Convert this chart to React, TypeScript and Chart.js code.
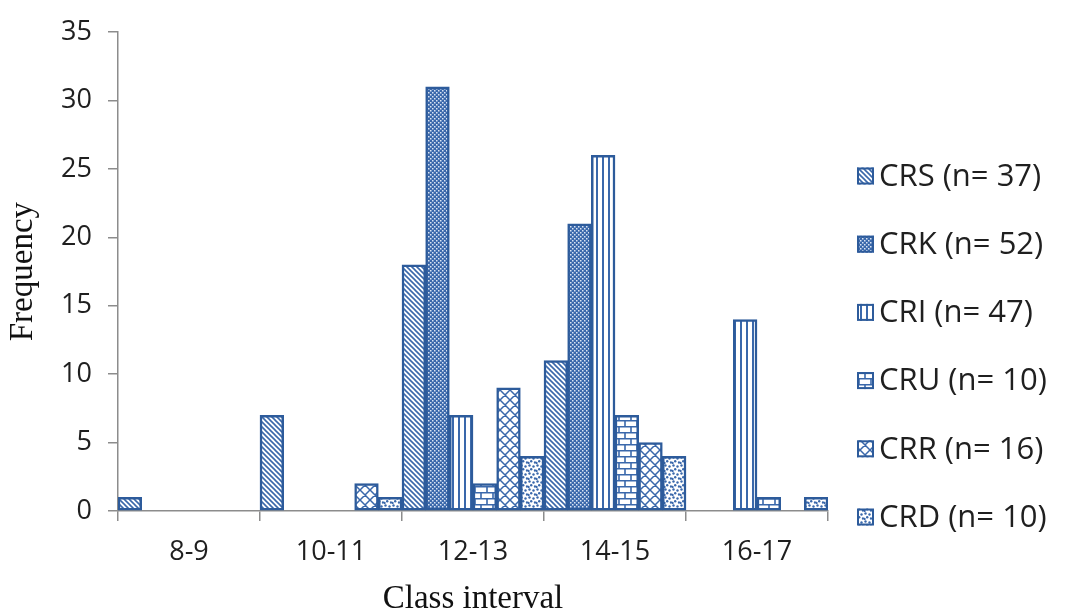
import { useEffect, useRef } from "react";
import { Chart, registerables } from "chart.js";

Chart.register(...registerables);

// ---- data ----
const categories = ["8-9", "10-11", "12-13", "14-15", "16-17"];
const seriesNames = ["CRS (n= 37)", "CRK (n= 52)", "CRI (n= 47)", "CRU (n= 10)", "CRR (n= 16)", "CRD (n= 10)"];
const crsValues = [1, 7, 18, 11, 0];
const crkValues = [0, 0, 31, 21, 0];
const criValues = [0, 0, 7, 26, 14];
const cruValues = [0, 0, 2, 7, 1];
const crrValues = [0, 2, 9, 5, 0];
const crdValues = [0, 1, 4, 4, 1];
const yMin = 0;
const yMax = 35;
const yStep = 5;
const xTitle = "Class interval";
const yTitle = "Frequency";

// ---- styles ----
const BORDER = "#2D5B9B";
const HATCH = "#3A68AB";
const TICK_FONT = '"Open Sans", "Noto Sans", sans-serif';
const TITLE_FONT = '"Liberation Serif", "DejaVu Serif", serif';

type Kind = "diag" | "fine" | "vert" | "brick" | "cross" | "dots";
const kinds: Kind[] = ["diag", "fine", "vert", "brick", "cross", "dots"];

function makePattern(kind: Kind): CanvasPattern | string {
  const c = document.createElement("canvas");
  const g = c.getContext("2d");
  if (!g) return "#fff";
  let w = 5, h = 5;
  if (kind === "fine") { w = 4; h = 4; }
  if (kind === "vert") { w = 6; h = 6; }
  if (kind === "brick") { w = 12; h = 12; }
  if (kind === "cross") { w = 10; h = 10; }
  if (kind === "dots") { w = 8; h = 8; }
  c.width = w; c.height = h;
  g.fillStyle = "#ffffff";
  g.fillRect(0, 0, w, h);
  g.strokeStyle = HATCH;
  g.fillStyle = HATCH;
  if (kind === "diag") {
    g.lineWidth = 1.6;
    for (const k of [-w, 0, w]) {
      g.beginPath();
      g.moveTo(k - 1, -1);
      g.lineTo(k + w + 1, h + 1);
      g.stroke();
    }
  } else if (kind === "fine") {
    g.fillStyle = HATCH;
    g.fillRect(0, 0, w, h);
    g.fillStyle = "#d9e4f3";
    g.fillRect(0, 0, 1.5, 1.5);
    g.fillRect(2, 2, 1.5, 1.5);
  } else if (kind === "vert") {
    g.lineWidth = 2;
    g.beginPath();
    g.moveTo(3, 0);
    g.lineTo(3, h);
    g.stroke();
  } else if (kind === "brick") {
    g.lineWidth = 1.6;
    g.beginPath();
    g.moveTo(0, 0.8); g.lineTo(w, 0.8);
    g.moveTo(0, 6.8); g.lineTo(w, 6.8);
    g.moveTo(1, 0); g.lineTo(1, 6);
    g.moveTo(7, 6); g.lineTo(7, 12);
    g.stroke();
  } else if (kind === "cross") {
    g.lineWidth = 1.5;
    g.beginPath();
    for (const k of [-w, 0, w]) {
      g.moveTo(k, 0); g.lineTo(k + w, h);
      g.moveTo(k + w, 0); g.lineTo(k, h);
    }
    g.stroke();
  } else if (kind === "dots") {
    const pts = [[1.5, 1.5], [5.5, 2.5], [3.2, 5.2], [7, 6.5], [0.5, 7]];
    for (const [x, y] of pts) {
      g.beginPath();
      g.arc(x, y, 1.2, 0, Math.PI * 2);
      g.fill();
    }
  }
  return g.createPattern(c, "repeat") || "#fff";
}

// legend layout
const LEG_X = 857;
const LEG_Y0 = 176;
const LEG_STEP = 68.2;
const LEG_BOX = 17;
const LEG_FONT_SIZE = 31;

const sideLegend = {
  id: "sideLegend",
  afterDraw(chart: any) {
    const ctx = chart.ctx as CanvasRenderingContext2D;
    chart.data.datasets.forEach((ds: any, i: number) => {
      const y = LEG_Y0 + i * LEG_STEP;
      ctx.save();
      ctx.fillStyle = ds.backgroundColor;
      ctx.fillRect(LEG_X, y - LEG_BOX / 2, LEG_BOX, LEG_BOX);
      ctx.strokeStyle = ds.borderColor;
      ctx.lineWidth = 2;
      ctx.strokeRect(LEG_X + 1, y - LEG_BOX / 2 + 1, LEG_BOX - 2, LEG_BOX - 2);
      ctx.fillStyle = "#1f1f1f";
      ctx.font = `${LEG_FONT_SIZE}px ${TICK_FONT}`;
      ctx.textBaseline = "middle";
      ctx.textAlign = "left";
      ctx.fillText(ds.label, LEG_X + LEG_BOX + 5, y + 1);
      ctx.restore();
    });
  },
};

export default function App() {
  const ref = useRef<HTMLCanvasElement | null>(null);

  useEffect(() => {
    document.body.style.margin = "0";
    const canvas = ref.current;
    if (!canvas) return;
    const values = [crsValues, crkValues, criValues, cruValues, crrValues, crdValues];
    const datasets = values.map((v, i) => ({
      label: seriesNames[i],
      data: v,
      backgroundColor: makePattern(kinds[i]) as any,
      borderColor: BORDER,
      borderWidth: 2.5,
      borderSkipped: false as const,
      barPercentage: 1,
      categoryPercentage: 1,
    }));

    const chart = new Chart(canvas, {
      type: "bar",
      data: { labels: categories, datasets },
      plugins: [sideLegend],
      options: {
        responsive: false,
        animation: false,
        layout: { padding: { top: 29, right: 244, left: 0, bottom: 0 } },
        plugins: { legend: { display: false }, tooltip: { enabled: false } },
        scales: {
          x: {
            grid: { display: true, drawOnChartArea: false, offset: true, tickLength: 10, color: "#8C8C8C", lineWidth: 1.5 },
            border: { display: true, color: "#8C8C8C", width: 1.5 },
            ticks: { color: "#1f1f1f", font: { family: TICK_FONT, size: 27 }, padding: 15, maxRotation: 0 },
            title: { display: true, text: xTitle, color: "#111", font: { family: TITLE_FONT, size: 33, lineHeight: 1 }, padding: { top: 0, bottom: -1 } },
            afterFit: (s: any) => { s.height = 104; },
          },
          y: {
            min: yMin,
            max: yMax,
            grid: { display: true, drawOnChartArea: false, tickLength: 10, color: "#8C8C8C", lineWidth: 1.5 },
            border: { display: true, color: "#8C8C8C", width: 1.5 },
            ticks: { stepSize: yStep, color: "#1f1f1f", font: { family: TICK_FONT, size: 27 }, padding: 16 },
            title: { display: true, text: yTitle, color: "#111", font: { family: TITLE_FONT, size: 33, lineHeight: 1 }, padding: { top: 7, bottom: 0 } },
            afterFit: (s: any) => { s.width = 118; },
          },
        },
      },
    });
    return () => chart.destroy();
  }, []);

  return (
    <div style={{ width: 1072, height: 615, background: "#fff" }}>
      <canvas ref={ref} width={1072} height={615} style={{ display: "block" }} />
    </div>
  );
}
